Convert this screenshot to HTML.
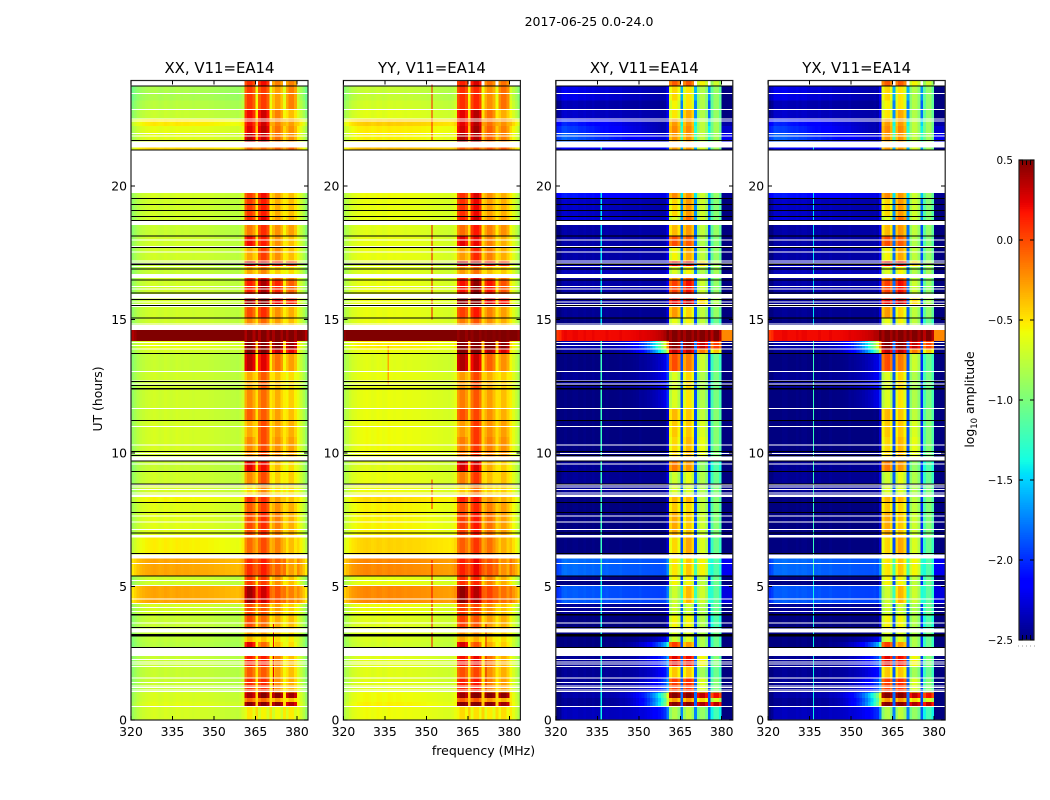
<!DOCTYPE html>
<html lang="en">
<head>
<meta charset="utf-8">
<title>2017-06-25 0.0-24.0</title>
<style>
html,body{margin:0;padding:0;background:#fff;}
body{width:1050px;height:800px;overflow:hidden;}
svg{display:block;font-family:"DejaVu Sans","Liberation Sans",sans-serif;fill:#000;}
</style>
</head>
<body>
<svg id="figure" xmlns="http://www.w3.org/2000/svg" width="1050" height="800" viewBox="0 0 1050 800">
  <rect x="0" y="0" width="1050" height="800" fill="#fff"/>
  <text x="589" y="26" font-size="12.5" text-anchor="middle">2017-06-25 0.0-24.0</text>
  <text x="483.5" y="755" font-size="12.5" text-anchor="middle">frequency (MHz)</text>
  <text transform="translate(102,399) rotate(-90)" font-size="12.4" text-anchor="middle">UT (hours)</text>
  <g id="panels"></g>
  <g id="colorbar"></g>
  <text transform="translate(974,399.5) rotate(-90)" font-size="12.4" text-anchor="middle">log<tspan font-size="8.5" dy="3">10</tspan><tspan dy="-3"> amplitude</tspan></text>
</svg>
<script>
// ---- Data ----
const panelTitles = ["XX, V11=EA14", "YY, V11=EA14", "XY, V11=EA14", "YX, V11=EA14"];
const xTickValues = [320, 335, 350, 365, 380];
const yTickValues = [0, 5, 10, 15, 20];
const colorbarTickValues = [-2.5, -2.0, -1.5, -1.0, -0.5, 0.0, 0.5];
const freqBins = [320,321,322,323,324,325,326,327,328,329,330,331,332,333,334,335,336,337,338,339,340,341,342,343,344,345,346,347,348,349,350,351,352,353,354,355,356,357,358,359,360,361,362,363,364,365,366,367,368,369,370,371,372,373,374,375,376,377,378,379,380,381,382,383];
const lobeStart = [361, 366, 371, 376];
const lobeEnd = [365, 370, 375, 380];

// Time rows (UT hours)
const rowStart = [0,.50,.68,.82,1.03,1.6,2.0,2.72,2.92,3.18,3.43,3.93,4.37,5.04,5.39,6.19,6.93,7.78,8.15,8.45,8.84,9.31,9.86,10.6,11.22,11.67,12.41,13.06,13.73,13.89,14.19,14.79,15.06,15.49,15.96,16.47,16.70,16.99,17.19,17.70,18.12,18.69,18.85,19.54,21.35,21.66,21.97,22.25,22.51,22.87,23.2,23.75];
const rowEnd = [.50,.68,.82,1.03,1.6,2.0,2.39,2.92,3.18,3.27,3.93,4.37,5.04,5.39,6.05,6.84,7.78,8.15,8.35,8.84,9.31,9.72,10.6,11.22,11.67,12.41,13.06,13.73,13.89,14.19,14.61,15.06,15.49,15.78,16.47,16.55,16.99,17.19,17.70,18.12,18.53,18.85,19.54,19.74,21.45,21.97,22.25,22.51,22.87,23.2,23.75,23.95];

// log10 amplitude, parallel hands (XX, YY)
const parOut = [-.76,-.72,-.75,-.75,-.81,-.81,-.81,-.86,-.84,-.81,-.81,-.76,-.38,-.78,-.38,-.62,-.72,-.72,-.65,-.76,-.78,-.81,-.76,-.76,-.78,-.78,-.78,-.81,-.76,-.7,.5,-.78,-.78,-.76,-.78,-.78,-.81,-.81,-.78,-.78,-.81,-.78,-.78,-.76,-.55,-.72,-.7,-.6,-.81,-.86,-.91,null];
const parLobes = [
[-.5,-.55,-.6,-.55],[.5,.5,.45,.35],[-.1,-.1,-.3,-.4],[.4,.5,.45,.4],[.1,.1,-.25,-.35],[-.05,-.05,-.3,-.4],[.15,.15,-.2,-.4],
[.25,-.1,-.4,-.5],[-.35,-.4,-.5,-.55],[-.3,-.3,-.45,-.5],[0,-.1,-.35,-.4],[0,-.05,-.3,-.45],[.42,.3,-.05,-.2],[.05,.05,-.25,-.4],
[.1,.15,-.1,-.3],[-.1,0,-.2,-.4],[0,.1,-.2,-.35],[-.05,.05,-.25,-.35],[.1,.1,-.3,-.4],[-.45,-.2,-.5,-.5],[-.2,0,-.45,-.45],
[.25,.2,-.4,-.5],[-.2,0,-.25,-.3],[-.3,0,-.3,-.35],[-.05,-.05,-.3,-.4],[-.2,-.1,-.35,-.45],[-.3,-.05,-.4,-.5],[.35,.25,-.15,-.3],
[.5,.5,.3,.2],[.5,.5,.5,.4],[.5,.5,.5,.5],[-.2,-.1,-.3,-.4],[0,.1,-.25,-.35],[.45,.5,.2,.1],[.15,.4,.1,-.1],[.1,.2,-.1,-.2],
[-.3,-.2,-.45,-.5],[.3,.3,.1,0],[-.3,.05,-.25,-.4],[.2,.15,-.25,-.4],[-.15,.1,-.25,-.3],[.1,.25,-.3,-.35],[.05,.15,-.35,-.4],
[.05,.2,-.3,-.4],[-.1,-.1,-.1,-.1],[.35,.3,-.15,-.25],[.25,.35,-.15,-.25],[.2,.3,-.2,-.3],[.2,.3,-.2,-.4],[.05,.05,-.3,-.2],
[.05,.05,-.3,-.2],[.1,.2,-.2,-.2]];

// log10 amplitude, cross hands (XY, YX)
const crossOut = [-2.35,-2.45,-2.45,-2.4,-2.45,-2.45,-2.45,-2.5,-2.5,-2.5,-2.5,-2.45,-1.85,-2.5,-1.8,-2.5,-2.5,-2.5,-2.5,-2.45,-2.45,-2.45,-2.5,-2.5,-2.5,-2.5,-2.45,-2.5,-2.45,-2.4,.2,-2.5,-2.45,-2.45,-2.4,-2.4,-2.35,-2.35,-2.4,-2.4,-2.4,-2.25,-2.3,-2.05,-2.2,-1.8,-1.9,-2.0,-2.3,-2.35,-2.2,null];
const crossTilt = [.4,1.6,1.5,1.6,.6,.4,.6,1,.3,0,0,0,-.1,0,-.1,0,0,0,0,0,0,0,0,0,0,.3,.3,.3,1.6,2.0,.2,0,0,0,0,0,0,0,0,0,0,-.1,-.1,-.2,0,-.5,-.5,-.4,-.1,-.1,-.2,0];
const crossLobes = [
[-.85,-.8,-.95,-1.25],[.5,.5,.35,.3],[-.3,-.3,-.5,-.7],[.5,.5,.3,.15],[0,.05,-.7,-1.0],[-.45,-.45,-.9,-1.1],[.2,.15,-.6,-1.0],
[0,-.3,-.85,-1.1],[-.75,-.7,-.85,-1.1],[-.7,-.7,-.85,-1.05],[-.6,-.6,-.85,-1.2],[-.75,-.75,-.85,-1.1],[-.75,-.4,-.75,-1.15],[-.6,-.6,-.8,-1.1],
[-.55,-.45,-.6,-1.2],[-.5,-.35,-.7,-1.1],[-.35,-.45,-.75,-1.0],[-.45,-.5,-.8,-1.0],[-.4,-.4,-.8,-1.0],[-.7,-.7,-.85,-1.0],[-.75,-.65,-.85,-1.1],
[-.2,-.3,-.95,-1.2],[-.5,-.4,-.65,-1.0],[-.45,-.45,-.7,-1.0],[-.4,-.45,-.8,-1.0],[-.7,-.55,-.85,-1.05],[-.7,-.5,-.85,-1.05],[-.05,-.2,-.75,-1.1],
[.3,.3,-.2,-.45],[.5,.5,.3,0],[.5,.5,.5,.5],[-.65,-.6,-.8,-1.1],[-.3,-.5,-.8,-.95],[.2,.3,-.5,-.85],[0,.15,-.75,-.95],[-.3,-.1,-.8,-.95],
[-.7,-.6,-.85,-.9],[.2,.2,-.5,-.85],[-.6,-.35,-.8,-.95],[-.05,-.1,-.85,-1.0],[-.4,-.3,-.8,-.95],[-.7,-.15,-.75,-1.0],[-.5,-.3,-.75,-1.0],
[-.25,-.3,-.75,-.95],[-.3,-.3,-.7,-.9],[-.3,-.3,-.8,-.9],[-.25,-.25,-.8,-.9],[-.3,-.3,-.8,-.9],[-.55,-.35,-.85,-.95],[-.6,-.55,-.85,-.95],
[-.5,-.55,-.85,-.95],[-.1,-.1,-.6,-.75]];

// Spectral offsets per frequency bin
const xxShape = [-.13,-.07,-.01,.03,.05,.07,.08,.09,.1,.09,.07,.08,.1,.09,.07,.08,.1,.09,.08,.09,.09,.08,.07,.08,.08,.07,.07,.07,.06,.06,.05,.05,.04,.04,.03,.03,.02,.02,.01,.03,.09,-.12,0,0,-.12,.3,-.12,0,0,-.12,.27,-.1,.03,.03,-.1,.25,-.1,.03,.03,-.1,.17,.07,-.03,-.15];
const yyShape = [-.04,.02,.08,.12,.14,.16,.17,.18,.19,.18,.16,.17,.19,.18,.16,.17,.19,.18,.17,.18,.18,.17,.16,.17,.17,.16,.16,.16,.15,.15,.14,.14,.13,.13,.12,.12,.11,.11,.1,.12,.16,-.06,.04,.04,-.06,.34,-.05,.07,.07,-.05,.32,-.03,.08,.08,-.03,.29,-.03,.08,.08,-.03,.24,.14,.06,-.06];
const xyShape = [-.15,-.1,0,.02,0,0,.02,.02,0,0,.02,0,0,.02,0,0,0,0,.02,0,0,0,0,.02,0,0,0,0,0,0,.02,0,0,0,0,0,0,0,0,.02,.2,-.1,.05,.05,-.1,.6,-.1,.05,.05,-.1,.6,-.1,.05,.05,-.1,.5,-.15,.05,.05,-.15,-.4,-.4,-.4,-.4];
const yxShape = [-.15,-.1,0,0,0,.02,.02,0,0,0,.02,0,.02,.02,0,0,0,0,.02,0,0,0,.02,0,0,0,0,0,0,.02,0,0,0,0,0,0,0,0,.02,0,.2,-.1,.04,.06,-.1,.6,-.1,.06,.04,-.1,.6,-.1,.05,.04,-.1,.5,-.15,.04,.05,-.15,-.4,-.4,-.4,-.4];

// Narrow single-frequency interference
const rfiPanel = [2,2,2,3,3,3,1,1,1,1,1,0,1];
const rfiFreq = [336.2,336.2,336.2,336.2,336.2,336.2,351.8,351.8,351.8,351.8,336,371.3,371.3];
const rfiFrom = [0,5.4,14.7,0,5.4,14.7,2.7,7.9,15,21.7,12.5,1,1];
const rfiTo = [5.4,14.2,21.5,5.4,14.2,21.5,6,9,18.6,23.8,14,3.6,3.6];
const rfiLevel = [-1.4,-1.25,-1.45,-1.4,-1.25,-1.45,.2,.15,.2,.15,-.3,.25,.25];

// Flagged records (UT hours), common to all panels
const blackLineHours = [23.75,21.71,21.35,19.54,19.31,19.09,18.85,18.71,18.12,17.70,17.07,17.05,16.89,16.47,15.99,15.74,15.53,15.06,13.73,12.67,12.52,12.41,12.39,11.22,10.05,9.90,9.70,9.31,8.84,8.15,7.78,7.01,6.24,5.39,3.93,3.95,3.47,3.14,3.18,3.21,2.72];
const whiteLineHours = [23.47,22.87,22.51,22.44,21.97,21.87,17.97,17.73,17.52,17.19,17.11,16.99,16.24,16.14,15.65,15.57,15.49,14.83,14.14,14.02,13.89,13.06,12.70,12.58,11.67,11.00,10.29,9.98,9.59,8.80,8.73,8.64,8.51,7.64,7.42,7.14,5.87,5.22,5.04,4.54,4.37,4.21,4.07,3.64,2.27,2.18,2.10,2.00,1.57,1.40,1.28,1.21,1.13,1.06,.50];

// ---- Scales and helpers ----
const SVG_NS = "http://www.w3.org/2000/svg";
const axesLeft = 131, axesStep = 212.4, axesWidth = 177, axesBottom = 720, axesHeight = 639.5;
const xMin = 320, xMax = 384, yMax = 23.95, valueMin = -2.5, valueMax = 0.5;
function xScale(panel, f) { return axesLeft + panel * axesStep + (f - xMin) * axesWidth / (xMax - xMin); }
function yScale(t) { return axesBottom - t * axesHeight / yMax; }
function clamp01(v) { return Math.max(0, Math.min(1, v)); }
function jet(v) {
  const n = clamp01((v - valueMin) / (valueMax - valueMin));
  let r, g, b;
  if (n < .35) r = 0; else if (n < .66) r = (n - .35) / .31; else if (n < .89) r = 1; else r = 1 - .5 * (n - .89) / .11;
  if (n < .125) g = 0; else if (n < .375) g = (n - .125) / .25; else if (n < .64) g = 1; else if (n < .91) g = 1 - (n - .64) / .27; else g = 0;
  if (n < .11) b = .5 + .5 * n / .11; else if (n < .34) b = 1; else if (n < .65) b = 1 - (n - .34) / .31; else b = 0;
  return "rgb(" + Math.round(r * 255) + "," + Math.round(g * 255) + "," + Math.round(b * 255) + ")";
}
function rect(parent, x, y, w, h, fill) {
  const el = document.createElementNS(SVG_NS, "rect");
  el.setAttribute("x", x.toFixed(2));
  el.setAttribute("y", y.toFixed(2));
  el.setAttribute("width", w.toFixed(2));
  el.setAttribute("height", h.toFixed(2));
  el.setAttribute("fill", fill);
  el.setAttribute("shape-rendering", "crispEdges");
  parent.appendChild(el);
  return el;
}
function text(parent, x, y, str, size, anchor) {
  const el = document.createElementNS(SVG_NS, "text");
  el.setAttribute("x", x);
  el.setAttribute("y", y);
  el.setAttribute("font-size", size);
  el.setAttribute("text-anchor", anchor);
  el.textContent = str;
  parent.appendChild(el);
  return el;
}
function group(parent) {
  const el = document.createElementNS(SVG_NS, "g");
  parent.appendChild(el);
  return el;
}
function lobeOf(f) {
  for (let k = 0; k < lobeStart.length; k++) { if (f >= lobeStart[k] && f < lobeEnd[k]) return k; }
  return -1;
}

const panelShapes = [xxShape, yyShape, xyShape, yxShape];
const panelOut = [parOut, parOut, crossOut, crossOut];
const panelLobes = [parLobes, parLobes, crossLobes, crossLobes];
const panelTilt = [null, null, crossTilt, crossTilt];
const panelKeys = ["xx", "yy", "xy", "yx"];

function tiltAt(rate, f) {
  const u = (f - xMin) / 40;
  return rate > 0 ? rate * Math.pow(u, 6) : rate * u;
}
function cellValue(p, r, c) {
  const f = freqBins[c];
  const k = lobeOf(f);
  const shape = panelShapes[p][c];
  if (k >= 0) return panelLobes[p][r][k] + shape;
  const out = panelOut[p][r];
  if (out === null) return null;
  const tilt = panelTilt[p] && f < lobeStart[0] ? tiltAt(panelTilt[p][r], f) : 0;
  return out + tilt + shape;
}

// ---- Panels ----
const panelsRoot = document.getElementById("panels");
panelTitles.forEach(function (title, p) {
  const key = panelKeys[p];
  const left = xScale(p, xMin), right = xScale(p, xMax);
  const g = group(panelsRoot);
  
  

  const cells = group(g);
  
  
  rowStart.forEach(function (t0, r) {
    const y1 = yScale(rowEnd[r]), y0 = yScale(t0);
    freqBins.forEach(function (f, c) {
      const v = cellValue(p, r, c);
      if (v === null) return;
      const x0 = xScale(p, f), x1 = xScale(p, f + 1);
      const cell = rect(cells, x0, y1, x1 - x0, y0 - y1, jet(v));
      
      
    });
  });

  // narrow interference lines, drawn only where data exists
  rfiPanel.forEach(function (panel, i) {
    if (panel !== p) return;
    rowStart.forEach(function (t0, r) {
      const a = Math.max(t0, rfiFrom[i]), b = Math.min(rowEnd[r], rfiTo[i]);
      if (b <= a) return;
      const seg = rect(g, xScale(p, rfiFreq[i]), yScale(b), 1.2, yScale(a) - yScale(b), jet(rfiLevel[i]));
      
      
    });
  });

  whiteLineHours.forEach(function (t) {
    const w = rect(g, left, yScale(t) - .5, axesWidth, 1, "#fff");
    
    
  });
  blackLineHours.forEach(function (t) {
    const b = rect(g, left, yScale(t) - .5, axesWidth, 1, "#000");
    
    
  });

  const frame = document.createElementNS(SVG_NS, "rect");
  frame.setAttribute("x", left);
  frame.setAttribute("y", yScale(yMax));
  frame.setAttribute("width", axesWidth);
  frame.setAttribute("height", axesHeight);
  frame.setAttribute("fill", "none");
  frame.setAttribute("stroke", "#222");
  frame.setAttribute("stroke-width", "1.2");
  
  
  g.appendChild(frame);

  xTickValues.forEach(function (v) {
    const x = xScale(p, v);
    const bottomTick = rect(g, x - .5, axesBottom - 4, 1, 4, "#000");
    
    
    const topTick = rect(g, x - .5, yScale(yMax), 1, 4, "#000");
    
    
    const lab = text(g, x, axesBottom + 16, String(v), 12.4, "middle");
    
    
  });
  yTickValues.forEach(function (v) {
    const y = yScale(v);
    const leftTick = rect(g, left, y - .5, 4, 1, "#000");
    
    
    const rightTick = rect(g, right - 4, y - .5, 4, 1, "#000");
    
    
    const lab = text(g, left - 4, y + 4.5, String(v), 12.4, "end");
    
    
  });

  const t = text(g, (left + right) / 2, 73, title, 14.9, "middle");
  
  
});

// ---- Colorbar ----
const cbRoot = document.getElementById("colorbar");
const cbLeft = 1019, cbWidth = 15, cbTop = 160, cbBottom = 640;
function cbScale(v) { return cbBottom - (v - valueMin) * (cbBottom - cbTop) / (valueMax - valueMin); }
for (let i = 0; i < 256; i++) {
  const v0 = valueMin + (valueMax - valueMin) * i / 256;
  const v1 = valueMin + (valueMax - valueMin) * (i + 1) / 256;
  const swatch = rect(cbRoot, cbLeft, cbScale(v1), cbWidth, cbScale(v0) - cbScale(v1), jet((v0 + v1) / 2));
  
  
}
[1022, 1026, 1030].forEach(function (x) {
  const topMark = rect(cbRoot, x, cbTop, 1, 5, "#000");
  
  
  const bottomMark = rect(cbRoot, x, cbBottom - 5, 1, 5, "#000");
  
  
});
const cbFrame = document.createElementNS(SVG_NS, "rect");
cbFrame.setAttribute("x", cbLeft);
cbFrame.setAttribute("y", cbTop);
cbFrame.setAttribute("width", cbWidth);
cbFrame.setAttribute("height", cbBottom - cbTop);
cbFrame.setAttribute("fill", "none");
cbFrame.setAttribute("stroke", "#222");
cbFrame.setAttribute("stroke-width", "1.2");


cbRoot.appendChild(cbFrame);
colorbarTickValues.forEach(function (v) {
  const y = cbScale(v);
  const l = rect(cbRoot, cbLeft, y - .5, 4, 1, "#000");
  
  
  const r = rect(cbRoot, cbLeft + cbWidth - 4, y - .5, 4, 1, "#000");
  
  
  const str = v.toFixed(1).replace("-", "\u2212");
  const lab = text(cbRoot, cbLeft - 6, y + 4, str, 10.4, "end");
  
  
});
const dots = document.createElementNS(SVG_NS, "line");
dots.setAttribute("x1", 1018);
dots.setAttribute("x2", 1035);
dots.setAttribute("y1", 646);
dots.setAttribute("y2", 646);
dots.setAttribute("stroke", "#999");
dots.setAttribute("stroke-width", "1");
dots.setAttribute("stroke-dasharray", "1 3");


cbRoot.appendChild(dots);
</script>
</body>
</html>
